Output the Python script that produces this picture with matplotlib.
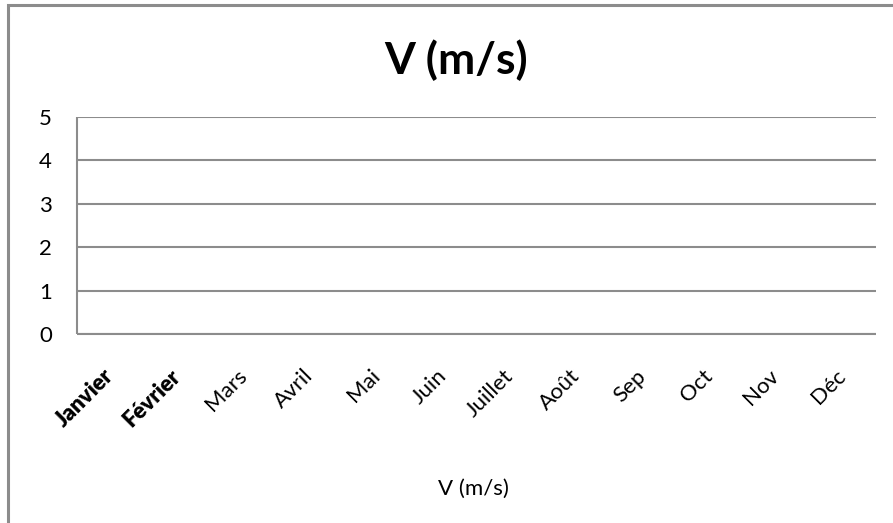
import numpy as np
import matplotlib.pyplot as plt
from matplotlib.patches import Rectangle

plt.rcParams['font.family'] = ['Lato', 'DejaVu Sans']

months = ['Janvier', 'Février', 'Mars', 'Avril', 'Mai', 'Juin',
          'Juillet', 'Août', 'Sep', 'Oct', 'Nov', 'Déc']
# no measurements entered for the year yet
v_values = [None, None, None, None, None, None,
            None, None, None, None, None, None]
y_ticks = [0, 1, 2, 3, 4, 5]
series_name = 'V (m/s)'

W, H = 893, 523
fig = plt.figure(figsize=(W / 100, H / 100), dpi=100)
grid_col = '#8c8c8c'

# chart frame (only top and left edges fall inside the image)
fig.patches.append(Rectangle((8 / W, -0.1), 1.2, 1 - 5 / H + 0.1,
                             transform=fig.transFigure, fill=False,
                             edgecolor=grid_col, linewidth=2.2))

ax = fig.add_axes([77 / W, 1 - 334 / H, (876 - 77) / W, (334 - 117) / H])
x = np.arange(len(months))
y = np.array([np.nan if v is None else v for v in v_values], dtype=float)
ax.plot(x, y, color='#4f81bd', linewidth=2)

ax.set_xlim(-0.5, len(months) - 0.5)
ax.set_ylim(min(y_ticks), max(y_ticks))
ax.set_yticks(y_ticks)
ax.set_xticks(x)
ax.grid(axis='y', color=grid_col, linewidth=1.5)
ax.set_axisbelow(True)
for side in ['top', 'right']:
    ax.spines[side].set_visible(False)
for side in ['left', 'bottom']:
    ax.spines[side].set_color(grid_col)
    ax.spines[side].set_linewidth(1.5)
    ax.spines[side].set_capstyle('butt')
ax.tick_params(axis='y', length=0, pad=18, labelsize=16)
ax.tick_params(axis='x', length=0, pad=28)
ax.set_xticklabels(months, rotation=45, ha='right', va='center',
                   rotation_mode='anchor', fontsize=16)
for lbl in ax.get_xticklabels()[:2]:
    lbl.set_fontweight('heavy')

fig.text(456 / W, 1 - 60 / H, series_name, ha='center', va='center',
         fontsize=32, fontweight='bold')
fig.text(473 / W, 1 - 489 / H, series_name, ha='center', va='center',
         fontsize=16)

fig.savefig('out.png', dpi=100)
